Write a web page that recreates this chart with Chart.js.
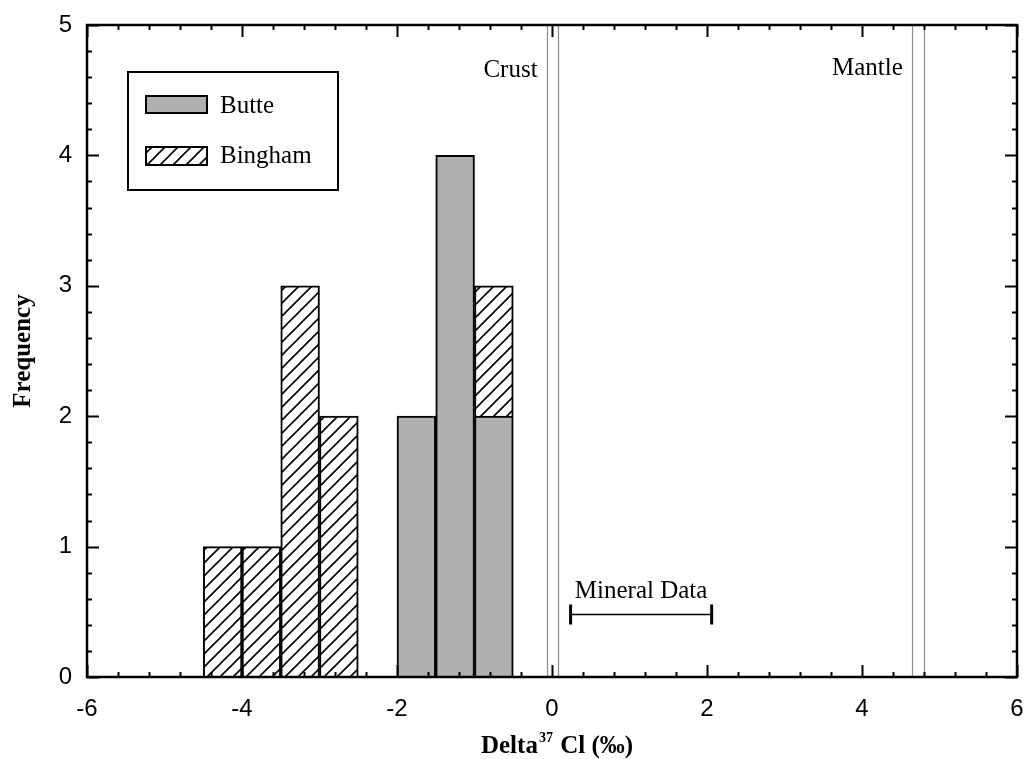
<!DOCTYPE html>
<html>
<head>
<meta charset="utf-8">
<script src="https://cdn.jsdelivr.net/npm/chart.js@4/dist/chart.umd.min.js"></script>
<style>
  html, body { margin: 0; padding: 0; background: #fff; }
  #wrap { width: 1027px; height: 759px; }
</style>
</head>
<body>
<div id="wrap"><canvas id="chart" width="1027" height="759"></canvas></div>
<script>
// Histogram bins (centres, ‰) and counts for each deposit
const butteBins = [-1.75, -1.25, -0.75];
const butteCounts = [2, 4, 2];
const binghamBins = [-4.25, -3.75, -3.25, -2.75, -0.75];
const binghamCounts = [1, 1, 3, 2, 1];

// Reference values drawn across the plot
const crustLines = [-0.07, 0.08];
const mantleLines = [4.65, 4.80];
const mineralRange = [0.24, 2.06];
const mineralLevel = 0.48;

// Axis extents and tick steps
const xRange = [-6, 6];
const yRange = [0, 5];
const xMajorStep = 2, xMinorStep = 0.4;
const yMajorStep = 1, yMinorStep = 0.2;

const serif = '"Liberation Serif", "Times New Roman", serif';
const sans = '"Liberation Sans", Arial, sans-serif';
const butteFill = '#b0b0b0';

function makeHatch() {
  const s = 13;
  const c = document.createElement('canvas');
  c.width = s; c.height = s;
  const g = c.getContext('2d');
  g.fillStyle = '#fff';
  g.fillRect(0, 0, s, s);
  g.strokeStyle = '#000';
  g.lineWidth = 1.6;
  g.beginPath();
  g.moveTo(0, s); g.lineTo(s, 0);
  g.moveTo(-s / 2, s / 2); g.lineTo(s / 2, -s / 2);
  g.moveTo(s / 2, s * 1.5); g.lineTo(s * 1.5, s / 2);
  g.stroke();
  return g.createPattern(c, 'repeat');
}
const hatch = makeHatch();

function toPoints(xs, ys) {
  return xs.map((x, i) => ({ x: x, y: ys[i] }));
}

// Frame with inward major/minor ticks on all four sides
const framePlugin = {
  id: 'frameTicks',
  afterDatasetsDraw(chart) {
    const { ctx, chartArea: a, scales: { x, y } } = chart;
    ctx.save();
    ctx.strokeStyle = '#000';
    ctx.lineWidth = 2;
    ctx.beginPath();
    const eps = 1e-9;
    for (let v = xRange[0]; v <= xRange[1] + eps; v += xMinorStep) {
      const major = Math.abs(v / xMajorStep - Math.round(v / xMajorStep)) < 1e-6;
      const len = major ? 12 : 5;
      const px = Math.round(x.getPixelForValue(v)) + 0.5;
      ctx.moveTo(px, a.bottom); ctx.lineTo(px, a.bottom - len);
      ctx.moveTo(px, a.top); ctx.lineTo(px, a.top + len);
    }
    for (let v = yRange[0]; v <= yRange[1] + eps; v += yMinorStep) {
      const major = Math.abs(v / yMajorStep - Math.round(v / yMajorStep)) < 1e-6;
      const len = major ? 12 : 5;
      const py = Math.round(y.getPixelForValue(v)) + 0.5;
      ctx.moveTo(a.left, py); ctx.lineTo(a.left + len, py);
      ctx.moveTo(a.right, py); ctx.lineTo(a.right - len, py);
    }
    ctx.stroke();
    ctx.lineWidth = 2.5;
    ctx.strokeRect(a.left, a.top, a.right - a.left, a.bottom - a.top);
    ctx.restore();
  }
};

// Crust / mantle reference lines, mineral data range, legend and x title
const annotationPlugin = {
  id: 'annotations',
  beforeDatasetsDraw(chart) {
    const { ctx, chartArea: a, scales: { x, y } } = chart;
    ctx.save();
    ctx.strokeStyle = '#8a8a8a';
    ctx.lineWidth = 1.2;
    ctx.beginPath();
    [...crustLines, ...mantleLines].forEach(v => {
      const px = Math.round(x.getPixelForValue(v)) + 0.5;
      ctx.moveTo(px, a.top); ctx.lineTo(px, a.bottom);
    });
    ctx.stroke();

    ctx.fillStyle = '#000';
    ctx.font = '25px ' + serif;
    ctx.textBaseline = 'alphabetic';
    ctx.textAlign = 'right';
    ctx.fillText('Crust', x.getPixelForValue(crustLines[0]) - 9, a.top + 52);
    ctx.textAlign = 'left';
    ctx.fillText('Mantle', x.getPixelForValue(4.0) - 30, a.top + 50);

    // mineral data range bar
    const x0 = x.getPixelForValue(mineralRange[0]);
    const x1 = x.getPixelForValue(mineralRange[1]);
    const py = y.getPixelForValue(mineralLevel);
    ctx.strokeStyle = '#000';
    ctx.lineWidth = 1.5;
    ctx.beginPath();
    ctx.moveTo(x0, py); ctx.lineTo(x1, py);
    ctx.stroke();
    ctx.lineWidth = 3;
    ctx.beginPath();
    ctx.moveTo(x0, py - 10); ctx.lineTo(x0, py + 10);
    ctx.moveTo(x1, py - 10); ctx.lineTo(x1, py + 10);
    ctx.stroke();
    ctx.textAlign = 'center';
    ctx.fillText('Mineral Data', (x0 + x1) / 2, py - 16);
    ctx.restore();
  },
  afterDraw(chart) {
    const { ctx, chartArea: a } = chart;
    ctx.save();
    // legend
    ctx.strokeStyle = '#000';
    ctx.lineWidth = 2;
    ctx.strokeRect(128, 72, 210, 118);
    ctx.fillStyle = butteFill;
    ctx.fillRect(146, 96, 61, 17);
    ctx.strokeRect(146, 96, 61, 17);
    ctx.fillStyle = hatch;
    ctx.fillRect(146, 147, 61, 18);
    ctx.strokeRect(146, 147, 61, 18);
    ctx.fillStyle = '#000';
    ctx.font = '25px ' + serif;
    ctx.textAlign = 'left';
    ctx.textBaseline = 'alphabetic';
    ctx.fillText('Butte', 220, 113);
    ctx.fillText('Bingham', 220, 163);

    // x-axis title with superscript isotope mass
    const big = 'bold 25px ' + serif;
    const small = 'bold 14px ' + serif;
    const p1 = 'Delta', p2 = '37', p3 = ' Cl (‰)';
    ctx.font = big; const w1 = ctx.measureText(p1).width;
    const w3 = ctx.measureText(p3).width;
    ctx.font = small; const w2 = ctx.measureText(p2).width + 2;
    const total = w1 + w2 + w3;
    const cx = (a.left + a.right) / 2 + 5;
    let sx = cx - total / 2;
    const base = 753;
    ctx.font = big; ctx.fillText(p1, sx, base); sx += w1 + 1;
    ctx.font = small; ctx.fillText(p2, sx, base - 11); sx += w2 - 1;
    ctx.font = big; ctx.fillText(p3, sx, base);
    ctx.restore();
  }
};

new Chart(document.getElementById('chart'), {
  type: 'bar',
  data: {
    datasets: [
      {
        label: 'Butte',
        data: toPoints(butteBins, butteCounts),
        backgroundColor: butteFill,
        borderColor: '#000',
        borderWidth: 2,
        barPercentage: 1,
        categoryPercentage: 1
      },
      {
        label: 'Bingham',
        data: toPoints(binghamBins, binghamCounts),
        backgroundColor: hatch,
        borderColor: '#000',
        borderWidth: 2,
        barPercentage: 1,
        categoryPercentage: 1
      }
    ]
  },
  options: {
    responsive: false,
    animation: false,
    devicePixelRatio: 1,
    layout: { padding: { top: 25, right: 10, left: 0, bottom: 0 } },
    plugins: { legend: { display: false }, tooltip: { enabled: false } },
    scales: {
      x: {
        type: 'linear',
        min: xRange[0], max: xRange[1],
        stacked: true,
        offset: false,
        grid: { display: false, drawTicks: false },
        border: { display: false },
        ticks: {
          stepSize: xMajorStep,
          autoSkip: false, maxRotation: 0,
          color: '#000',
          padding: 18,
          font: { family: sans, size: 24 }
        },
        afterFit(s) {
          s.height = 82;
          s.paddingLeft = 0;
          s.paddingRight = 0;
        }
      },
      y: {
        min: yRange[0], max: yRange[1],
        stacked: true,
        grid: { display: false, drawTicks: false },
        border: { display: false },
        ticks: {
          stepSize: yMajorStep,
          color: '#000',
          padding: 15,
          font: { family: sans, size: 24 }
        },
        title: {
          display: true,
          text: 'Frequency',
          color: '#000',
          padding: { top: 9, bottom: 0 },
          font: { family: serif, size: 25, weight: 'bold' }
        },
        afterFit(s) {
          s.width = 87;
          s.paddingTop = 0;
          s.paddingBottom = 0;
        }
      }
    }
  },
  plugins: [annotationPlugin, framePlugin]
});
</script>
</body>
</html>
